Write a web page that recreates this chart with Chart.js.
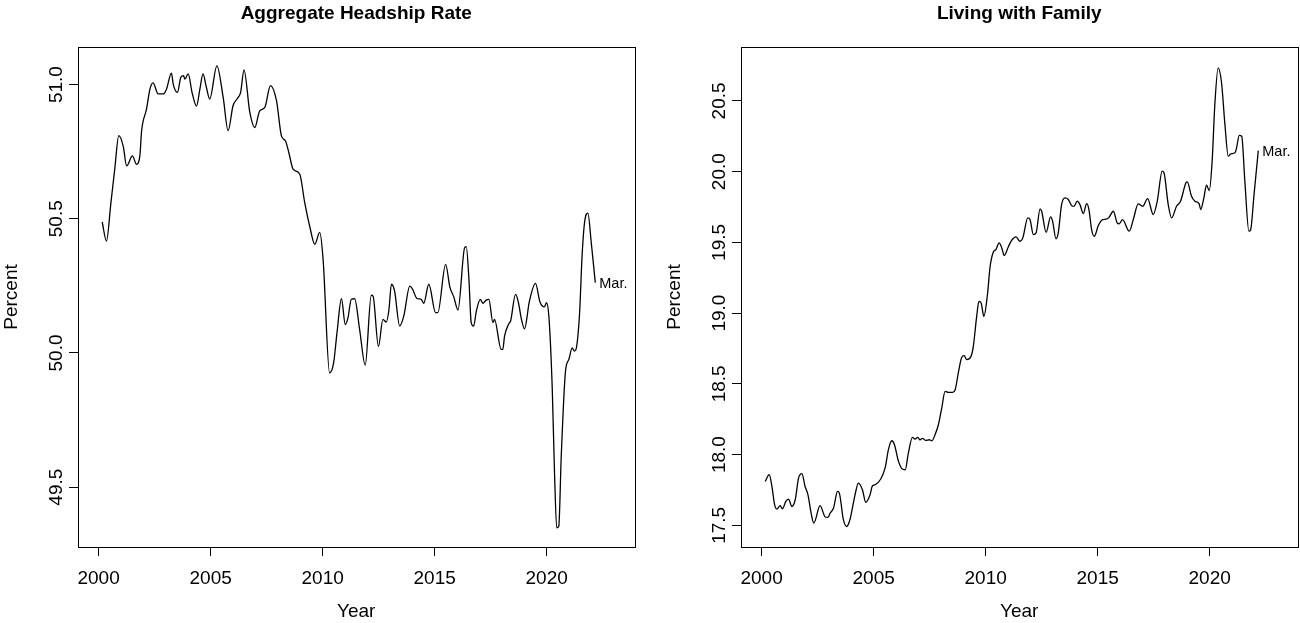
<!DOCTYPE html>
<html>
<head>
<meta charset="utf-8">
<script src="https://cdn.jsdelivr.net/npm/chart.js@4.4.1/dist/chart.umd.min.js"></script>
<style>
  html, body { margin: 0; padding: 0; background: #fff; }
  body { width: 1300px; height: 623px; position: relative; overflow: hidden; }
  .panel { position: absolute; top: 0; }
  canvas { display: block; }
</style>
</head>
<body>
<div class="panel" style="left:0px"><canvas id="headship" width="650" height="623"></canvas></div>
<div class="panel" style="left:663px"><canvas id="family" width="637" height="623"></canvas></div>
<script>
// values (monthly series, Mar. 2022 last)
var headshipYears = [2000.16, 2000.35, 2000.55, 2000.72, 2000.90, 2001.10, 2001.25, 2001.51, 2001.69, 2001.84,
  2001.92, 2002.14, 2002.29, 2002.43, 2002.66, 2002.88, 2003.03, 2003.25, 2003.33, 2003.52,
  2003.67, 2003.79, 2003.85, 2004.00, 2004.17, 2004.37, 2004.52, 2004.66, 2004.81, 2004.96,
  2005.28, 2005.56, 2005.78, 2006.00, 2006.20, 2006.34, 2006.49, 2006.75, 2006.97, 2007.19,
  2007.42, 2007.67, 2007.94, 2008.16, 2008.34, 2008.49, 2008.68, 2008.98, 2009.20, 2009.42,
  2009.65, 2009.87, 2010.02, 2010.31, 2010.49, 2010.64, 2010.84, 2011.01, 2011.13, 2011.28,
  2011.43, 2011.65, 2011.90, 2012.17, 2012.25, 2012.49, 2012.69, 2012.84, 2012.96, 2013.07,
  2013.21, 2013.44, 2013.62, 2013.89, 2014.00, 2014.21, 2014.40, 2014.51, 2014.74, 2015.04,
  2015.14, 2015.49, 2015.68, 2015.85, 2016.04, 2016.34, 2016.41, 2016.53, 2016.63, 2016.74,
  2016.86, 2017.04, 2017.15, 2017.30, 2017.42, 2017.60, 2017.67, 2017.97, 2018.04, 2018.12,
  2018.31, 2018.39, 2018.61, 2018.74, 2018.86, 2019.01, 2019.23, 2019.50, 2019.70, 2019.90,
  2019.99, 2020.10, 2020.25, 2020.35, 2020.45, 2020.54, 2020.65, 2020.84, 2020.99, 2021.14,
  2021.24, 2021.34, 2021.47, 2021.58, 2021.69, 2021.84, 2021.99, 2022.17];
var headshipRate = [50.488, 50.417, 50.56, 50.685, 50.81, 50.77, 50.697, 50.734, 50.703, 50.734,
  50.828, 50.909, 50.983, 51.006, 50.965, 50.965, 50.983, 51.043, 51.002, 50.971,
  51.027, 51.033, 51.02, 51.04, 50.971, 50.92, 50.983, 51.04, 50.99, 50.946,
  51.07, 50.952, 50.828, 50.921, 50.949, 50.971, 51.055, 50.896, 50.84, 50.902,
  50.915, 50.996, 50.94, 50.809, 50.79, 50.747, 50.685, 50.666, 50.56, 50.473,
  50.405, 50.449, 50.349, 49.926, 49.963, 50.075, 50.202, 50.106, 50.131, 50.20,
  50.202, 50.088, 49.955, 50.215, 50.212, 50.024, 50.125, 50.115, 50.162, 50.256,
  50.231, 50.10, 50.137, 50.249, 50.24, 50.203, 50.20, 50.185, 50.256, 50.15,
  50.15, 50.33, 50.245, 50.21, 50.16, 50.393, 50.396, 50.274, 50.113, 50.10,
  50.156, 50.20, 50.185, 50.197, 50.20, 50.113, 50.125, 50.013, 50.013, 50.063,
  50.109, 50.119, 50.218, 50.187, 50.131, 50.09, 50.193, 50.259, 50.19, 50.172,
  50.187, 50.134, 49.864, 49.553, 49.348, 49.354, 49.615, 49.932, 49.976, 50.019,
  50.007, 50.025, 50.15, 50.361, 50.486, 50.521, 50.411, 50.262];

var familyYears = [2000.16, 2000.34, 2000.46, 2000.58, 2000.68, 2000.83, 2000.93, 2001.08, 2001.20, 2001.35,
  2001.50, 2001.65, 2001.80, 2001.94, 2002.07, 2002.21, 2002.33, 2002.61, 2002.84, 2002.96,
  2003.06, 2003.21, 2003.39, 2003.47, 2003.65, 2003.80, 2003.95, 2004.17, 2004.32, 2004.50,
  2004.65, 2004.84, 2004.95, 2005.07, 2005.51, 2005.66, 2005.81, 2005.93, 2006.11, 2006.28,
  2006.41, 2006.55, 2006.73, 2006.85, 2006.97, 2007.07, 2007.18, 2007.33, 2007.48, 2007.60,
  2007.74, 2007.89, 2008.04, 2008.19, 2008.34, 2008.52, 2008.64, 2008.78, 2008.93, 2009.04,
  2009.16, 2009.35, 2009.45, 2009.60, 2009.70, 2009.80, 2009.92, 2010.08, 2010.20, 2010.34,
  2010.46, 2010.60, 2010.72, 2010.83, 2011.01, 2011.16, 2011.36, 2011.53, 2011.66, 2011.88,
  2011.98, 2012.13, 2012.25, 2012.43, 2012.50, 2012.70, 2012.90, 2012.99, 2013.14, 2013.24,
  2013.39, 2013.54, 2013.69, 2013.84, 2013.94, 2014.09, 2014.21, 2014.36, 2014.51, 2014.61,
  2014.73, 2014.85, 2015.03, 2015.22, 2015.37, 2015.50, 2015.70, 2015.87, 2015.96, 2016.11,
  2016.41, 2016.59, 2016.81, 2017.01, 2017.23, 2017.48, 2017.66, 2017.88, 2017.96, 2018.15,
  2018.30, 2018.52, 2018.70, 2018.94, 2019.00, 2019.19, 2019.34, 2019.53, 2019.60, 2019.74,
  2019.86, 2019.98, 2020.11, 2020.23, 2020.38, 2020.53, 2020.68, 2020.83, 2020.94, 2021.13,
  2021.20, 2021.32, 2021.43, 2021.57, 2021.75, 2021.83, 2021.98, 2022.17];
var familyShare = [17.81, 17.858, 17.775, 17.646, 17.615, 17.639, 17.617, 17.669, 17.686, 17.634,
  17.681, 17.835, 17.865, 17.775, 17.716, 17.587, 17.516, 17.639, 17.559, 17.556,
  17.587, 17.622, 17.74, 17.728, 17.54, 17.492, 17.545, 17.716, 17.799, 17.752,
  17.662, 17.716, 17.78, 17.787, 17.905, 18.035, 18.098, 18.07, 17.952, 17.898,
  17.893, 18.01, 18.122, 18.11, 18.122, 18.105, 18.115, 18.10, 18.105, 18.098,
  18.14, 18.211, 18.329, 18.447, 18.44, 18.44, 18.459, 18.577, 18.687, 18.699,
  18.671, 18.695, 18.765, 18.977, 19.083, 19.072, 18.977, 19.13, 19.33, 19.43,
  19.449, 19.496, 19.461, 19.407, 19.468, 19.515, 19.539, 19.508, 19.532, 19.673,
  19.661, 19.555, 19.567, 19.737, 19.72, 19.571, 19.68, 19.649, 19.525, 19.567,
  19.767, 19.815, 19.803, 19.76, 19.755, 19.791, 19.767, 19.704, 19.774, 19.732,
  19.591, 19.543, 19.619, 19.661, 19.664, 19.675, 19.72, 19.638, 19.631, 19.661,
  19.579, 19.661, 19.772, 19.755, 19.81, 19.697, 19.791, 20.003, 19.992, 19.767,
  19.673, 19.755, 19.791, 19.921, 19.928, 19.826, 19.791, 19.772, 19.732, 19.815,
  19.904, 19.866, 20.074, 20.475, 20.734, 20.628, 20.333, 20.109, 20.126, 20.133,
  20.168, 20.257, 20.25, 19.932, 19.579, 19.59, 19.838, 20.149];

var yearTicks = [2000, 2005, 2010, 2015, 2020];
var headshipTicks = [49.5, 50.0, 50.5, 51.0];
var familyTicks = [17.5, 18.0, 18.5, 19.0, 19.5, 20.0, 20.5];
var lastMonth = 'Mar.';

var FONT = '"Liberation Sans", Arial, Helvetica, sans-serif';
Chart.defaults.font.family = FONT;
Chart.defaults.color = '#000';

// box, rotated y labels, title and the end label, like base R graphics
var framePlugin = {
    id: 'frame',
    afterDraw: function(chart, args, opts) {
        var ctx = chart.ctx;
        var a = chart.chartArea;
        ctx.save();
        ctx.strokeStyle = '#000';
        ctx.lineWidth = 1;
        ctx.strokeRect(Math.round(a.left) + 0.5, Math.round(a.top) + 0.5,
            Math.round(a.right - a.left), Math.round(a.bottom - a.top));

        var ys = chart.scales.y;
        ctx.fillStyle = '#000';
        ctx.font = '19px ' + FONT;
        ctx.textAlign = 'center';
        ctx.textBaseline = 'middle';
        opts.yTicks.forEach(function(v) {
            var py = ys.getPixelForValue(v);
            ctx.save();
            ctx.translate(a.left - 21, py);
            ctx.rotate(-Math.PI / 2);
            ctx.fillText(v.toFixed(1), 0, 0);
            ctx.restore();
        });

        ctx.font = 'bold 19px ' + FONT;
        ctx.textBaseline = 'alphabetic';
        ctx.fillText(opts.title, (a.left + a.right) / 2, 19);

        var pts = chart.getDatasetMeta(0).data;
        var last = pts[pts.length - 1];
        ctx.font = '14.5px ' + FONT;
        ctx.textAlign = 'left';
        ctx.textBaseline = 'middle';
        ctx.fillText(opts.endLabel, last.x + 4, last.y + 1);
        ctx.restore();
    }
};

function makePanel(id, title, years, values, yTicks, yMin, yMax, rightPad) {
    var points = [];
    years.forEach(function(yr, i) {
        points.push({x: yr, y: values[i]});
    });
    var tickMarks = {display: true, drawOnChartArea: false, drawTicks: true, tickLength: 9, color: '#000', lineWidth: 1};
    var axisLine = {display: true, color: '#000', width: 1};

    return new Chart(document.getElementById(id), {
        type: 'line',
        data: {
            datasets: [{
                data: points,
                borderColor: '#000',
                borderWidth: 1.3,
                pointRadius: 0,
                fill: false,
                cubicInterpolationMode: 'monotone'
            }]
        },
        options: {
            responsive: false,
            animation: false,
            devicePixelRatio: 1,
            events: [],
            layout: {padding: {top: 47, right: rightPad, left: 0, bottom: 0}},
            plugins: {
                legend: {display: false},
                tooltip: {enabled: false},
                title: {display: false},
                frame: {title: title, yTicks: yTicks, endLabel: lastMonth}
            },
            scales: {
                x: {
                    type: 'linear',
                    min: 1999.08,
                    max: 2023.92,
                    afterBuildTicks: function(s) { s.ticks = yearTicks.map(function(v) { return {value: v}; }); },
                    afterFit: function(s) { s.height = 76; },
                    ticks: {
                        autoSkip: false, maxRotation: 0, padding: 11, color: '#000',
                        font: {size: 19},
                        callback: function(v) { return String(v); }
                    },
                    grid: tickMarks,
                    border: axisLine,
                    title: {display: true, text: 'Year', color: '#000', font: {size: 19}, padding: {top: 0, bottom: 0}}
                },
                y: {
                    type: 'linear',
                    position: 'left',
                    min: yMin,
                    max: yMax,
                    afterBuildTicks: function(s) { s.ticks = yTicks.map(function(v) { return {value: v}; }); },
                    afterFit: function(s) { s.width = 78; },
                    ticks: {display: false},
                    grid: tickMarks,
                    border: axisLine,
                    title: {display: true, text: 'Percent', color: '#000', font: {size: 19}, padding: {top: 0, bottom: 0}}
                }
            }
        },
        plugins: [framePlugin]
    });
}

makePanel('headship', 'Aggregate Headship Rate', headshipYears, headshipRate, headshipTicks, 49.277, 51.140, 15.5);
makePanel('family', 'Living with Family', familyYears, familyShare, familyTicks, 17.347, 20.881, 2.5);
</script>
</body>
</html>
